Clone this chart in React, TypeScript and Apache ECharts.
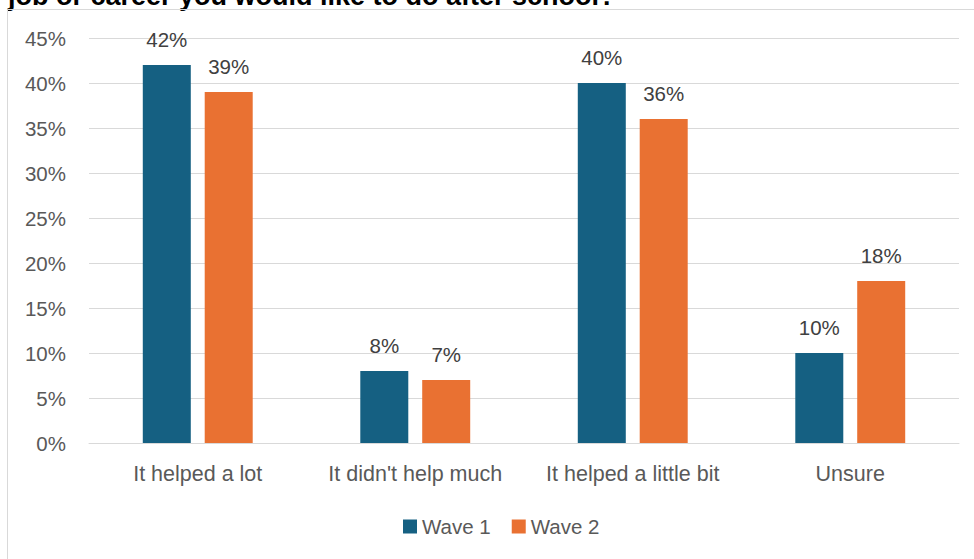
import React, { useEffect, useRef } from "react";
import * as echarts from "echarts";

const categories = ["It helped a lot", "It didn't help much", "It helped a little bit", "Unsure"];
const wave1 = [42, 8, 40, 10];
const wave2 = [39, 7, 36, 18];
const seriesNames = ["Wave 1", "Wave 2"];
const yTicks = { min: 0, max: 45, interval: 5 };
const titleText = "job or career you would like to do after school?";

const FONT = "'Liberation Sans', Arial, sans-serif";

export default function App() {
  const ref = useRef<HTMLDivElement>(null);

  useEffect(() => {
    if (!ref.current) return;
    const chart = echarts.init(ref.current, undefined, { renderer: "svg" });
    const label = {
      show: true,
      position: "top",
      distance: 15,
      formatter: "{c}%",
      color: "#404040",
      fontSize: 20.5,
      fontFamily: FONT,
    };
    chart.setOption({
      animation: false,
      backgroundColor: "#ffffff",
      textStyle: { fontFamily: FONT },
      graphic: [
        {
          type: "text",
          left: 8,
          top: -18,
          silent: true,
          style: {
            text: titleText,
            fill: "#000000",
            font: `bold 27px ${FONT}`,
          },
        },
        {
          type: "line",
          silent: true,
          shape: { x1: 7.5, y1: 9.5, x2: 974, y2: 9.5 },
          style: { stroke: "#d9d9d9", lineWidth: 1 },
        },
        {
          type: "line",
          silent: true,
          shape: { x1: 7.5, y1: 9.5, x2: 7.5, y2: 559 },
          style: { stroke: "#d9d9d9", lineWidth: 1 },
        },
      ],
      legend: {
        data: seriesNames,
        bottom: 17,
        left: 398,
        icon: "rect",
        itemWidth: 14,
        itemHeight: 14,
        itemGap: 21,
        textStyle: { color: "#595959", fontSize: 20.5, fontFamily: FONT, padding: [0, 0, 0, 0] },
      },
      grid: { left: 89, right: 15, top: 38, bottom: 116, containLabel: false },
      xAxis: {
        type: "category",
        data: categories,
        axisTick: { show: false },
        axisLine: { lineStyle: { color: "#d9d9d9", width: 1 } },
        axisLabel: {
          color: "#595959",
          fontSize: 21.5,
          fontFamily: FONT,
          margin: 20,
          interval: 0,
          hideOverlap: false,
        },
      },
      yAxis: {
        type: "value",
        min: yTicks.min,
        max: yTicks.max,
        interval: yTicks.interval,
        axisLine: { show: false },
        axisTick: { show: false },
        splitLine: { lineStyle: { color: "#d9d9d9", width: 1 } },
        axisLabel: {
          color: "#595959",
          fontSize: 20.5,
          fontFamily: FONT,
          margin: 23,
          formatter: "{value}%",
        },
      },
      series: [
        {
          name: seriesNames[0],
          type: "bar",
          data: wave1,
          barWidth: 48,
          barGap: "29%",
          itemStyle: { color: "#156082" },
          label,
        },
        {
          name: seriesNames[1],
          type: "bar",
          data: wave2,
          barWidth: 48,
          barGap: "29%",
          itemStyle: { color: "#E97132" },
          label,
        },
      ],
    });
    return () => chart.dispose();
  }, []);

  return (
    <div
      ref={ref}
      style={{ position: "fixed", left: 0, top: 0, width: 974, height: 559 }}
    />
  );
}
